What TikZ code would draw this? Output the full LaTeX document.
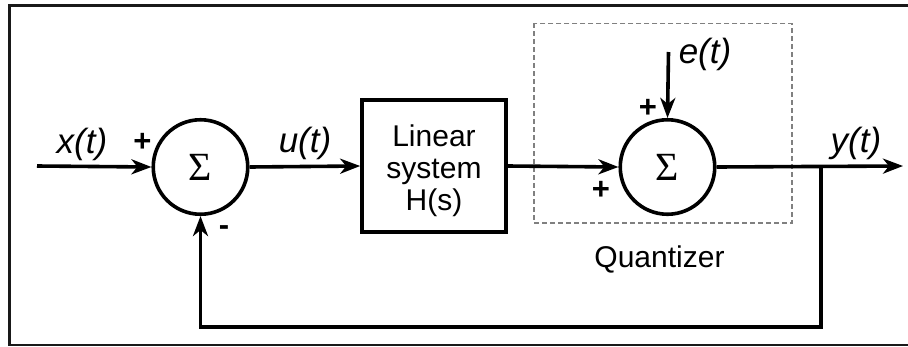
\documentclass[tikz,border=0pt]{standalone}
\usepackage{fontspec}
\setmainfont{Liberation Sans}
\newfontfamily\sigmafont{Liberation Serif}
\usetikzlibrary{arrows.meta}

\tikzset{
  wire/.style={line width=3.6pt},
  arr/.style={wire, -{Stealth[length=20pt,width=15pt,inset=6pt]}},
  sumnode/.style={circle, draw, line width=3.6pt, minimum size=94.5pt, inner sep=0pt,
    font=\sigmafont\fontsize{40}{40}\selectfont},
  blockbox/.style={rectangle, draw, line width=3.6pt, minimum width=144pt,
    minimum height=132pt, inner sep=0pt},
  sig/.style={font=\itshape\fontsize{35}{35}\selectfont, anchor=base, inner sep=0pt},
  plain/.style={font=\fontsize{30}{30}\selectfont, anchor=base, inner sep=0pt},
  sgn/.style={font=\bfseries\fontsize{31}{31}\selectfont, inner sep=0pt},
  quantbox/.style={draw=black!50, line width=1.2pt, dash pattern=on 5pt off 3pt},
}

\begin{document}
\begin{tikzpicture}[x=1pt, y=-1pt]
  \useasboundingbox (0,0) rectangle (908,346);
  \clip (0,0) rectangle (908,346);

  % outer frame (right side runs past the page edge)
  \draw[line width=2.6pt, black!90] (9.5,5.3) rectangle (930,344.8);

  % quantizer enclosure
  \draw[quantbox] (534,23.3) rectangle (792,223);
  \node[plain] (qlabel) at (659.5,267) {Quantizer};

  % blocks
  \node[sumnode] (sum1) at (200.5,167) {Σ};
  \node[blockbox] (plant) at (434,166) {};
  \node[sumnode] (sum2) at (667.5,167) {Σ};

  \node[plain] (pl1) at (434,146.7) {Linear};
  \node[plain] (pl2) at (434,178.3) {system};
  \node[plain] (pl3) at (434,210) {H(s)};

  % signal path
  \coordinate (xin) at (37,166);
  \coordinate (yout) at (903,166);
  \coordinate (ein) at (668.5,52);
  \coordinate (tap) at (821,166);
  \coordinate (fbr) at (821,327);
  \coordinate (fbl) at (200.5,327);

  \draw[arr] (xin) -- (sum1.west);
  \draw[arr] (sum1.east) -- (plant.west);
  \draw[arr] (plant.east) -- (sum2.west);
  \draw[arr] (sum2.east) -- (yout);
  \draw[arr] (ein) -- (sum2.north);
  \draw[arr] (tap) -- (fbr) -- (fbl) -- (sum1.south);

  % signal labels
  \node[sig] (xl) at (82,153) {x(t)};
  \node[sig] (ul) at (305,152) {u(t)};
  \node[sig] (yl) at (856,152) {y(t)};
  \node[sig] (el) at (705,63) {e(t)};

  % signs at the summing junctions
  \node[sgn] (p1) at (142.5,142) {+};
  \node[sgn] (m1) at (224,231) {-};
  \node[sgn] (p2) at (648,108) {+};
  \node[sgn] (p3) at (601,190) {+};
\end{tikzpicture}
\end{document}
